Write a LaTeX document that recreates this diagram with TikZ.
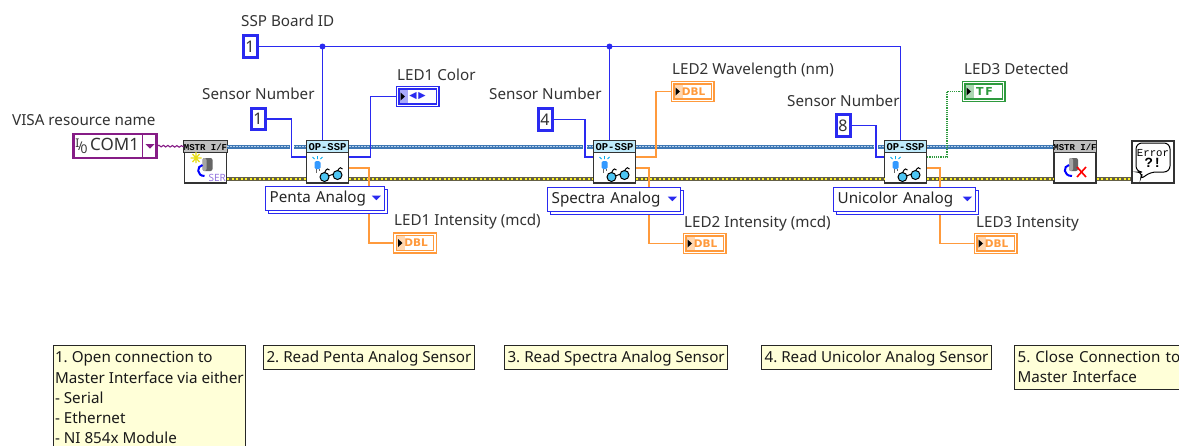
\documentclass[tikz,border=0pt]{standalone}
\usepackage{fontspec}
\setmainfont{Noto Sans}
\setmonofont{Liberation Mono}
\newfontfamily\symfont{DejaVu Sans}
\usetikzlibrary{positioning, calc, shadows, decorations.pathmorphing}
\definecolor{intblue}{HTML}{2A2AF0}
\definecolor{dblorange}{HTML}{FF9A3C}
\definecolor{tfgreen}{HTML}{2E9A3E}
\definecolor{visapurple}{HTML}{861C86}
\definecolor{refblue}{HTML}{3F78B4}
\definecolor{reflight}{HTML}{B5D0EC}
\definecolor{noteyellow}{HTML}{FFFFD8}
\newcommand{\dropmark}[2]{\fill[#1] (#2) ++(-4.5,-2) -- ++(9,0) -- ++(-4.5,4.5) -- cycle;}

\begin{document}
\frenchspacing
\begin{tikzpicture}[
    x=1pt, y=-1pt,
    txt/.style={font=\fontsize{15.2}{17}\selectfont, inner sep=0pt, anchor=west, text=black!80, text height=11pt, text depth=0pt},
    const/.style={draw=intblue, line width=3pt, fill=white, minimum width=14pt, minimum height=21.5pt, inner sep=0pt, font=\fontsize{16}{17}\selectfont, text=black!80},
    block/.style={draw=black!80, line width=1.3pt, fill=white, minimum width=42pt, minimum height=42pt, inner sep=0pt},
    head/.style={draw=black!80, line width=0.9pt, anchor=north, minimum width=42pt, minimum height=12pt, inner sep=0pt, font=\ttfamily\bfseries\fontsize{#1}{9}\selectfont},
    ring/.style={draw=intblue, line width=1.4pt, fill=white, anchor=north west, text width=#1, minimum height=24pt, inner sep=0pt, inner xsep=4pt, font=\fontsize{15.2}{17}\selectfont, text=black!85,
      copy shadow={shadow xshift=2.5pt, shadow yshift=-2.5pt, draw=intblue, fill=white, line width=1.1pt}},
    indic/.style args={#1/#2}{draw=#1, double=white, double distance=1.4pt, line width=1.3pt, minimum width=40pt, minimum height=17.5pt, inner sep=0pt,
      font=\symfont\bfseries\fontsize{10.5}{12}\selectfont, text=#1,
      path picture={\fill[#2] (path picture bounding box.north west) rectangle ++(10pt,-22pt);
        \fill[black] ($(path picture bounding box.west)+(3pt,-4pt)$) -- ++(0pt,8pt) -- ++(4.5pt,-4pt) -- cycle;}},
    note/.style={draw=black!85, line width=1.1pt, fill=noteyellow, anchor=north west, inner sep=3pt, align=left, font=\fontsize{15.2}{20.3}\selectfont, text=black!90,
      execute at begin node={\rule{0pt}{14pt}}, execute at end node={\rule[-4pt]{0pt}{4pt}}},
    intw/.style={draw=intblue, line width=1.25pt},
    hop/.style={intw, preaction={draw=white, line width=4pt}},
    dblw/.style={draw=dblorange, line width=1.3pt},
    tfw/.style={draw=tfgreen, line width=1.2pt, densely dotted},
    refw/.style={draw=refblue, line width=4pt, postaction={draw=reflight, line width=1.2pt, dash pattern=on 1.5pt off 1.5pt}},
    errw/.style={draw=black!70!yellow, line width=3.4pt, postaction={draw=yellow!85!white, line width=1.6pt, dash pattern=on 2pt off 2.5pt}},
    visaw/.style={draw=visapurple, line width=1.1pt, decorate, decoration={snake, segment length=4.5pt, amplitude=0.8pt}},
    dot/.style={circle, fill=intblue, inner sep=0pt, minimum size=6pt}
  ]
    \useasboundingbox (0,0) rectangle (1179,445);
    \clip (0,0) rectangle (1179,445);
    \fill[white] (0,0) rectangle (1179,445);

    % captions
    \node[txt] (idcap) at (241,21) {SSP Board ID};
    \node[txt] (visacap) at (12,120) {VISA resource name};
    \node[txt] (sensAcap) at (202,94) {Sensor Number};
    \node[txt] (sensBcap) at (489,94) {Sensor Number};
    \node[txt] (sensCcap) at (787,101) {Sensor Number};
    \node[txt] (colorcap) at (397,75) {LED1 Color};
    \node[txt] (intAcap) at (394,220) {LED1 Intensity (mcd)};
    \node[txt] (wavecap) at (672,69) {LED2 Wavelength (nm)};
    \node[txt] (intBcap) at (684,222) {LED2 Intensity (mcd)};
    \node[txt] (detcap) at (964,69) {LED3 Detected};
    \node[txt] (intCcap) at (976,222) {LED3 Intensity};

    % blocks
    \node[block] (mstrOpen) at (205.5,162) {};
    \node[block] (opA) at (327.5,162) {};
    \node[block] (opB) at (614.5,162) {};
    \node[block] (opC) at (905.5,162) {};
    \node[block] (mstrClose) at (1075,162) {};
    \node[block, font=\ttfamily\fontsize{10.7}{12}\selectfont, align=center] (errDlg) at (1153,162) {Error\\[-1pt]{\bfseries\fontsize{14}{12}\selectfont ?!}\\[-4pt]\mbox{}};
    \node[head=9, fill=black!25] (mstrOpenhead) at (mstrOpen.north) {MSTR I/F};
    \node[head=9, fill=black!25] (mstrClosehead) at (mstrClose.north) {MSTR I/F};
    \foreach \n in {opA,opB,opC}
      \node[head=10.5, fill=cyan!25] (\n head) at (\n.north) {OP-SSP};

    % constants and indicators
    \node[const] (idconst) at (250,46.5) {1};
    \node[const] (sensA) at (258,119) {1};
    \node[const] (sensB) at (545,119.5) {4};
    \node[const] (sensC) at (843,125.5) {8};
    \node[indic={intblue/intblue!40}, font=\symfont\fontsize{9.5}{9}\selectfont, text=intblue] (colorind) at (417.5,96.5) {◀\,▶};
    \node[indic={dblorange/dblorange!40}] (intAind) at (415,243) {\hspace*{2pt}DBL};
    \node[indic={dblorange/dblorange!40}] (waveind) at (692.5,91.5) {\hspace*{2pt}DBL};
    \node[indic={dblorange/dblorange!40}] (intBind) at (704.5,243.5) {\hspace*{2pt}DBL};
    \node[indic={tfgreen/tfgreen!40}, font=\symfont\bfseries\fontsize{11}{12}\selectfont] (detind) at (983.5,91.5) {\hspace*{2pt}T\,F};
    \node[indic={dblorange/dblorange!40}] (intCind) at (995.5,243.5) {\hspace*{2pt}DBL};
    \node[draw=visapurple, line width=2.5pt, fill=white, minimum width=83pt, minimum height=24pt, inner sep=0pt, font=\fontsize{17}{18}\selectfont, text=black!80, anchor=west] (visa) at (72,146)
      {{\fontsize{12}{10}\selectfont\raisebox{3pt}{I}\kern-1.5pt/\kern-2pt\raisebox{-3pt}{0}}\,COM1\hspace*{15pt}};
    \draw[visapurple, line width=1.2pt] ($(visa.north east)+(-15,0)$) -- ($(visa.south east)+(-15,0)$);
    \dropmark{visapurple}{$(visa.east)+(-7.5,0)$}

    % error and reference wires
    \foreach \a/\b in {mstrOpen/opA,opA/opB,opB/opC,opC/mstrClose} {
      \draw[refw] ([yshift=15.5pt]\a.east) -- ([yshift=15.5pt]\b.west);
      \draw[errw] ([yshift=-17pt]\a.east) -- ([yshift=-17pt]\b.west);
    }
    \draw[errw] ([yshift=-17pt]mstrClose.east) -- ([yshift=-17pt]errDlg.west);
    \draw[visaw] (visa.east) -- ([yshift=15.5pt]mstrOpen.west);

    % board id
    \node[dot] (juncA) at (322.5,46.5) {};
    \node[dot] (juncB) at (609.5,46.5) {};
    \coordinate (idbend) at (900.5,46.5);
    \draw[intw] (idconst.east) -- (juncA.center) -- (juncB.center) -- (idbend) -- ([xshift=-5pt]opC.north);
    \draw[intw] (juncA.center) -- ([xshift=-5pt]opA.north);
    \draw[intw] (juncB.center) -- ([xshift=-5pt]opB.north);

    % sensor numbers
    \draw[hop] (sensA.east) -| (291.5,157) -- ([yshift=5pt]opA.west);
    \draw[hop] (sensB.east) -| (585,157) -- ([yshift=5pt]opB.west);
    \draw[hop] (sensC.east) -| (876,157) -- ([yshift=5pt]opC.west);

    % outputs
    \draw[intw] ([yshift=5pt]opA.east) -| (370.5,96.5) -- (colorind.west);
    \draw[dblw] ([yshift=-6pt]opA.east) -| (369,243) -- (intAind.west);
    \draw[dblw] ([yshift=5pt]opB.east) -| (656,91.5) -- (waveind.west);
    \draw[dblw] ([yshift=-6pt]opB.east) -| (649,243.5) -- (intBind.west);
    \draw[tfw] ([yshift=5pt]opC.east) -| (947,91.5) -- (detind.west);
    \draw[dblw] ([yshift=-6pt]opC.east) -| (940,243.5) -- (intCind.west);

    % rings
    \node[ring=111pt] (ringA) at (265,186) {Penta Analog};
    \node[ring=125pt] (ringB) at (547,187) {Spectra Analog};
    \node[ring=134pt] (ringC) at (833,187) {Unicolor Analog};
    \foreach \n in {ringA,ringB,ringC} {
      \dropmark{intblue}{$(\n.east)+(-9,-1)$}
    }

    % icons
    \foreach \n in {opA,opB,opC} {
      \begin{scope}[shift={(\n.center)}]
        \fill[blue!50!cyan!80, rounded corners=1.5pt] (-13,-1) rectangle (-7,7);
        \draw[black!60, line width=0.7pt] (-11.5,7) -- (-11.5,11) (-8.5,7) -- (-8.5,9);
        \draw[cyan, line width=0.9pt] (-10,-6) -- (-10,-3) (-15,-5) -- (-13,-3) (-5,-5) -- (-7,-3);
        \draw[black, line width=1pt, fill=cyan!70] (-3,15) circle (4.5) (10,13) circle (4.5);
        \draw[black, line width=1pt] (1,14) -- (6,12) (-3,11) .. controls (-1,6) and (1,6) .. (2,8) (10,9) .. controls (12,5) and (14,5) .. (15,7);
      \end{scope}
    }
    \begin{scope}[shift={(mstrOpen.center)}]
      \draw[yellow!90!black, line width=1.3pt] (-15,-4) -- (-4,-4) (-9.5,-10) -- (-9.5,1) (-13,-8) -- (-6,0) (-13,0) -- (-6,-8);
      \fill[black!60, rounded corners=2pt] (-3,-4) rectangle (7,9);
      \fill[black!35, rounded corners=2pt] (-3,-4) rectangle (1,9);
      \draw[blue, line width=2pt] (-3,3) .. controls (-9,4) and (-9,14) .. (-1,14);
    \end{scope}
    \node[inner sep=0pt, font=\bfseries\fontsize{10}{10}\selectfont, text=violet!45!blue!55, anchor=south east] (serTag) at ([xshift=-1pt,yshift=2pt]mstrOpen.south east) {SER};
    \begin{scope}[shift={(mstrClose.center)}]
      \fill[black!60, rounded corners=2pt] (-6,-4) rectangle (3,9);
      \fill[black!35, rounded corners=2pt] (-6,-4) rectangle (-2,9);
      \draw[blue, line width=2pt] (-6,3) .. controls (-12,4) and (-12,14) .. (-3,14);
      \draw[red, line width=1.6pt] (2,5) -- (11,15) (11,5) -- (2,15);
    \end{scope}
    \draw[black, line width=1pt, rounded corners=6pt] (1136,143) -- (1170,143) -- (1170,172) -- (1150,172) -- (1140,180) -- (1143,172) -- (1136,172) -- cycle;

    % notes
    \node[note, inner ysep=6pt, inner xsep=1.5pt] (noteA) at (53,345) {1. Open connection to\\Master Interface via either\\- Serial\\- Ethernet\\- NI 854x Module\\\mbox{}};
    \node[note] (noteB) at (263,345) {2. Read Penta Analog Sensor};
    \node[note] (noteC) at (504,345) {3. Read Spectra Analog Sensor};
    \node[note] (noteD) at (761,345) {4. Read Unicolor Analog Sensor};
    \node[note, text width=190pt] (noteE) at (1014,345) {5. Close Connection to\\Master Interface};
  \end{tikzpicture}
\end{document}
